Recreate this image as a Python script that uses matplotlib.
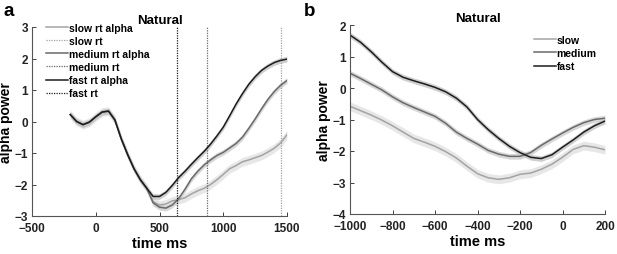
import matplotlib
matplotlib.use("Agg")
import matplotlib.pyplot as plt
import numpy as np

plt.rcParams['font.family'] = ['Liberation Sans', 'DejaVu Sans']
plt.rcParams['font.weight'] = 'bold'

# ---------------- panel a data ----------------
t_a = [-200, -150, -100, -50, 0, 50, 100, 150, 200, 250, 300, 350, 400,
       450, 500, 550, 600, 650, 700, 750, 800, 850, 900, 950, 1000, 1050,
       1100, 1150, 1200, 1250, 1300, 1350, 1400, 1450, 1500]
common_a = [0.22, 0.0, -0.1, -0.02, 0.15, 0.3, 0.33, 0.05, -0.55, -1.05, -1.5, -1.85, -2.12]
fast_a = common_a + [-2.38, -2.38, -2.25, -2.03, -1.78, -1.58, -1.36, -1.15, -0.95, -0.72,
                     -0.46, -0.18, 0.18, 0.55, 0.88, 1.18, 1.42, 1.62, 1.76, 1.87, 1.94, 1.98]
medium_a = common_a + [-2.58, -2.72, -2.75, -2.65, -2.45, -2.15, -1.82, -1.58, -1.38, -1.22,
                       -1.08, -0.98, -0.84, -0.7, -0.5, -0.22, 0.08, 0.4, 0.7, 0.95, 1.15, 1.3]
slow_a = common_a + [-2.55, -2.65, -2.62, -2.52, -2.48, -2.42, -2.3, -2.2, -2.12, -2.0,
                     -1.85, -1.68, -1.5, -1.4, -1.28, -1.22, -1.15, -1.08, -0.97, -0.85, -0.68, -0.42]
rt_fast, rt_medium, rt_slow = 637, 873, 1455

# ---------------- panel b data ----------------
t_b = [-1000, -950, -900, -850, -800, -750, -700, -650, -600, -550, -500, -450, -400,
       -350, -300, -250, -200, -150, -100, -50, 0, 50, 100, 150, 200]
fast_b = [1.68, 1.45, 1.15, 0.82, 0.52, 0.34, 0.23, 0.13, 0.02, -0.12, -0.32, -0.6, -1.0,
          -1.32, -1.6, -1.85, -2.05, -2.2, -2.24, -2.12, -1.88, -1.65, -1.4, -1.2, -1.05]
medium_b = [0.47, 0.3, 0.12, -0.06, -0.28, -0.47, -0.62, -0.76, -0.9, -1.12, -1.4, -1.6, -1.78,
            -1.98, -2.1, -2.17, -2.17, -2.05, -1.82, -1.62, -1.43, -1.25, -1.1, -1.0, -0.96]
slow_b = [-0.58, -0.72, -0.86, -1.02, -1.2, -1.4, -1.6, -1.72, -1.85, -2.02, -2.22, -2.48, -2.72,
          -2.85, -2.9, -2.85, -2.74, -2.7, -2.58, -2.42, -2.2, -1.95, -1.83, -1.88, -1.96]

sem = {'slow': 0.14, 'medium': 0.09, 'fast': 0.09}
col = {'slow': '#a3a3a3', 'medium': '#6a6a6a', 'fast': '#1c1c1c'}
band = {'slow': '#e2e2e2', 'medium': '#cdcdcd', 'fast': '#c4c4c4'}

fig = plt.figure(figsize=(6.17, 2.55), dpi=100)
W, H = 617, 255
axa = fig.add_axes([32 / W, 1 - 217 / H, 255 / W, 189 / H])
axb = fig.add_axes([350 / W, 1 - 215 / H, 255 / W, 189 / H])

def style(ax):
    for s in ['top', 'right']:
        ax.spines[s].set_visible(False)
    for s in ['left', 'bottom']:
        ax.spines[s].set_color('#555555')
        ax.spines[s].set_linewidth(0.8)
    ax.tick_params(direction='in', length=3, width=0.6, labelsize=8.5, colors='#222222')
    ax.tick_params(axis='x', pad=4.5)
    ax.tick_params(axis='y', pad=3)
    for lb in ax.get_xticklabels() + ax.get_yticklabels():
        lb.set_fontweight('bold')
    ax.set_xlabel('time ms', fontsize=10.5, fontweight='bold', labelpad=1)
    ax.set_ylabel('alpha power', fontsize=10, fontweight='bold', labelpad=1)
    ax.set_title('Natural', fontsize=9.5, fontweight='bold', pad=3)

# panel a
handles = []
for name, y, rt in [('slow', slow_a, rt_slow), ('medium', medium_a, rt_medium), ('fast', fast_a, rt_fast)]:
    y = np.array(y)
    axa.fill_between(t_a, y - sem[name], y + sem[name], color=band[name], alpha=0.8, lw=0)
for name, y, rt in [('slow', slow_a, rt_slow), ('medium', medium_a, rt_medium), ('fast', fast_a, rt_fast)]:
    l1, = axa.plot(t_a, y, color=col[name], lw=1.1, label=f'{name} rt alpha')
    l2 = axa.axvline(rt, color=col[name], lw=0.9, ls=(0, (1, 1)), label=f'{name} rt')
    handles += [l1, l2]
axa.set_xlim(-500, 1500)
axa.set_ylim(-3, 3)
axa.set_xticks([-500, 0, 500, 1000, 1500])
axa.set_yticks([-3, -2, -1, 0, 1, 2, 3])
style(axa)
axa.legend(handles=handles, loc='upper left', bbox_to_anchor=(0.035, 1.05), frameon=False,
           handlelength=2.1, handletextpad=0.1, labelspacing=0.3, borderpad=0,
           prop={'weight': 'bold', 'size': 7.5})

# panel b
for name, y in [('slow', slow_b), ('medium', medium_b), ('fast', fast_b)]:
    y = np.array(y)
    axb.fill_between(t_b, y - sem[name], y + sem[name], color=band[name], alpha=0.8, lw=0)
hb = []
for name, y in [('slow', slow_b), ('medium', medium_b), ('fast', fast_b)]:
    l, = axb.plot(t_b, y, color=col[name], lw=1.1, label=name)
    hb.append(l)
axb.set_xlim(-1000, 200)
axb.set_ylim(-4, 2)
axb.set_xticks([-1000, -800, -600, -400, -200, 0, 200])
axb.set_yticks([-4, -3, -2, -1, 0, 1, 2])
style(axb)
axb.legend(handles=hb, loc='upper left', bbox_to_anchor=(0.7, 0.975), frameon=False,
           handlelength=2.1, handletextpad=0.1, labelspacing=0.3, borderpad=0,
           prop={'weight': 'bold', 'size': 7.5})

fig.text(4 / W, 1 - 11 / H, 'a', fontsize=13.5, fontweight='bold', va='center')
fig.text(304 / W, 1 - 11 / H, 'b', fontsize=13.5, fontweight='bold', va='center')

fig.savefig('out.png', dpi=100)
